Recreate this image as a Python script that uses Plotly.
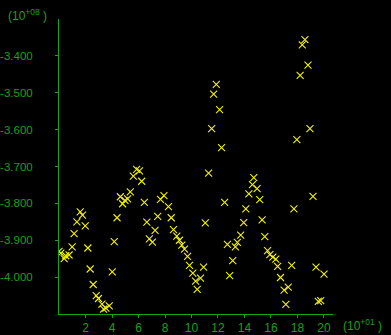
import plotly.graph_objects as go

# values: x in units of 10^+01, y in units of 10^+08
x_vals = [0.00, 0.14, 0.51, 0.76, 0.39, 0.99, 1.14, 1.35, 1.60, 1.77,
          1.98, 2.18, 2.35, 2.58, 2.81, 2.98, 3.24, 3.36, 3.54, 3.79,
          4.02, 4.17, 4.38, 4.63, 4.80, 4.98, 5.18, 5.38, 5.61, 5.86,
          6.07, 6.24, 6.44, 6.63, 6.82, 7.05, 7.25, 7.45, 7.66, 7.92,
          8.26, 8.47, 8.64, 8.89, 9.09, 9.27, 9.47, 9.70, 9.85, 10.10,
          10.31, 10.43, 10.68, 10.91, 11.04, 11.29, 11.52, 11.67, 11.87, 12.12,
          12.27, 12.50, 12.71, 12.88, 13.11, 13.31, 13.46, 13.71, 13.94, 14.10,
          14.33, 14.60, 14.70, 14.95, 15.15, 15.33, 15.53, 15.74, 15.91, 16.14,
          16.36, 16.50, 16.72, 16.99, 17.30, 17.12, 17.56, 17.73, 17.95, 18.20,
          18.36, 18.56, 18.79, 18.94, 19.17, 19.40, 19.57, 19.75, 20.00]
y_vals = [-3.930, -3.935, -3.942, -3.940, -3.950, -3.918, -3.882, -3.850, -3.823, -3.832,
          -3.861, -3.921, -3.978, -4.020, -4.050, -4.058, -4.073, -4.087, -4.084, -4.078,
          -3.986, -3.904, -3.839, -3.782, -3.801, -3.792, -3.788, -3.769, -3.726, -3.708,
          -3.712, -3.740, -3.797, -3.851, -3.896, -3.905, -3.873, -3.835, -3.789, -3.779,
          -3.809, -3.839, -3.871, -3.889, -3.900, -3.913, -3.924, -3.944, -3.968, -3.989,
          -4.011, -4.033, -4.003, -3.973, -3.853, -3.718, -3.597, -3.504, -3.477, -3.546,
          -3.649, -3.797, -3.911, -3.996, -3.955, -3.918, -3.906, -3.886, -3.852, -3.815,
          -3.774, -3.749, -3.730, -3.760, -3.790, -3.845, -3.890, -3.928, -3.939, -3.946,
          -3.951, -3.971, -4.001, -4.035, -4.027, -4.074, -3.968, -3.815, -3.627, -3.453,
          -3.370, -3.356, -3.425, -3.597, -3.781, -3.973, -4.066, -4.064, -3.992]

x_ticks = [2, 4, 6, 8, 10, 12, 14, 16, 18, 20]
x_tick_labels = ["2", "4", "6", "8", "10", "12", "14", "16", "18", "20"]
y_ticks = [-3.4, -3.5, -3.6, -3.7, -3.8, -3.9, -4.0]
y_tick_labels = ["-3.400", "-3.500", "-3.600", "-3.700", "-3.800", "-3.900", "-4.000"]

GREEN = "#1aa01a"
AXIS = "#10a810"
YELLOW = "#f2f200"
FONT = "Liberation Sans, Arial, sans-serif"

fig = go.Figure()
fig.add_trace(go.Scatter(
    x=x_vals, y=y_vals, mode="markers",
    marker=dict(symbol="x-thin", size=7, color=YELLOW,
                line=dict(color=YELLOW, width=1.1)),
    showlegend=False, hoverinfo="skip"))

fig.update_layout(
    width=391, height=335,
    margin=dict(l=59, r=58, t=19, b=21),
    paper_bgcolor="black", plot_bgcolor="black",
    font=dict(family=FONT, size=12, color=GREEN),
    xaxis=dict(range=[0, 20.68], tickvals=x_ticks, ticktext=x_tick_labels,
               showgrid=False, zeroline=False, showline=True, linecolor=AXIS,
               linewidth=1, ticks="outside", ticklen=3, tickcolor=AXIS,
               automargin=False,
               tickfont=dict(family=FONT, size=12, color=GREEN)),
    yaxis=dict(range=[-4.1, -3.3], tickvals=y_ticks, ticktext=y_tick_labels,
               showgrid=False, zeroline=False, showline=True, linecolor=AXIS,
               linewidth=1, ticks="outside", ticklen=3, tickcolor=AXIS,
               ticklabelstandoff=20, automargin=False,
               tickfont=dict(family=FONT, size=11.5, color=GREEN)),
    annotations=[
        dict(text="(10<sup>+08</sup> )", xref="paper", yref="paper",
             x=-0.195, y=1.013, xanchor="left", yanchor="middle",
             showarrow=False, font=dict(family=FONT, size=12, color=GREEN)),
        dict(text="(10<sup>+01</sup> )", xref="paper", yref="paper",
             x=1.03, y=-0.036, xanchor="left", yanchor="middle",
             showarrow=False, font=dict(family=FONT, size=12, color=GREEN)),
    ],
)

fig.write_html("out.html")
